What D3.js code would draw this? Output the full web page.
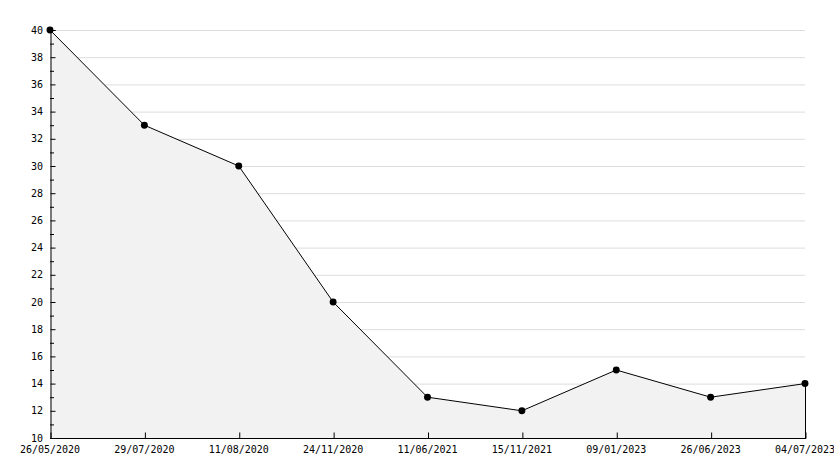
<!DOCTYPE html>
<html><head><meta charset="utf-8">
<script src="https://cdn.jsdelivr.net/npm/d3@7"></script>
<style>html,body{margin:0;padding:0;background:#fff;}svg{display:block;}</style>
</head><body>
<svg id="c" width="834" height="468"></svg>
<script>
const categories = ["26/05/2020","29/07/2020","11/08/2020","24/11/2020","11/06/2021","15/11/2021","09/01/2023","26/06/2023","04/07/2023"];
const values = [40,33,30,20,13,12,15,13,14];
const yTicks = [10,12,14,16,18,20,22,24,26,28,30,32,34,36,38,40];

const svg = d3.select("#c");
const L = 50, R = 805, T = 30, B = 438;
const x = d3.scalePoint().domain(categories).range([L, R]);
const y = d3.scaleLinear().domain([10, 40]).range([B, T]);
const font = "'DejaVu Sans Mono', monospace";

// gridlines
svg.append("g").selectAll("line").data(yTicks.filter(d => d > 10)).join("line")
  .attr("x1", L).attr("x2", R).attr("y1", d => y(d) + 0.5).attr("y2", d => y(d) + 0.5)
  .attr("stroke", "#dcdcdc").attr("stroke-width", 1);

// area
const pts = categories.map((c, i) => [x(c), y(values[i])]);
svg.append("path")
  .attr("d", d3.area().x(d => d[0]).y0(B).y1(d => d[1])(pts))
  .attr("fill", "#f2f2f2").attr("stroke", "none");
// right edge
svg.append("line").attr("x1", R + 0.5).attr("x2", R + 0.5).attr("y1", y(values[values.length - 1])).attr("y2", B)
  .attr("stroke", "#000");

// line
svg.append("path")
  .attr("d", d3.line().x(d => d[0]).y(d => d[1])(pts))
  .attr("fill", "none").attr("stroke", "#000").attr("stroke-width", 1);

// axes
const gy = svg.append("g").attr("transform", `translate(${L + 0.5},0)`)
  .call(d3.axisRight(y).tickValues(yTicks).tickSize(5).tickFormat(""));
gy.select(".domain").attr("stroke", "#000");
const minor = d3.range(11, 40, 2);
svg.append("g").selectAll("line").data(minor).join("line")
  .attr("x1", L).attr("x2", L + 4).attr("y1", d => y(d) + 0.5).attr("y2", d => y(d) + 0.5)
  .attr("stroke", "#000");
svg.append("g").selectAll("text").data(yTicks).join("text")
  .attr("x", L - 7).attr("y", d => y(d)).attr("dy", "0.35em")
  .attr("text-anchor", "end").attr("font-family", font).attr("font-size", 10).attr("fill", "#000")
  .text(d => d);

const gx = svg.append("g").attr("transform", `translate(0,${B + 0.5})`)
  .call(d3.axisTop(x).tickSize(6).tickFormat(""));
gx.select(".domain").attr("stroke", "#000").attr("d", `M${L},0H${R + 1}`);
gx.selectAll(".tick line").attr("transform", "translate(0.5,0)");
svg.append("g").selectAll("text").data(categories).join("text")
  .attr("x", d => x(d)).attr("y", 453)
  .attr("text-anchor", "middle").attr("font-family", font).attr("font-size", 10).attr("fill", "#000")
  .text(d => d);

// markers
svg.append("g").selectAll("path").data(pts).join("path")
  .attr("transform", d => `translate(${d[0]},${d[1]})`)
  .attr("d", d3.symbol(d3.symbolCircle, 38)())
  .attr("fill", "#000");
</script>
</body></html>
